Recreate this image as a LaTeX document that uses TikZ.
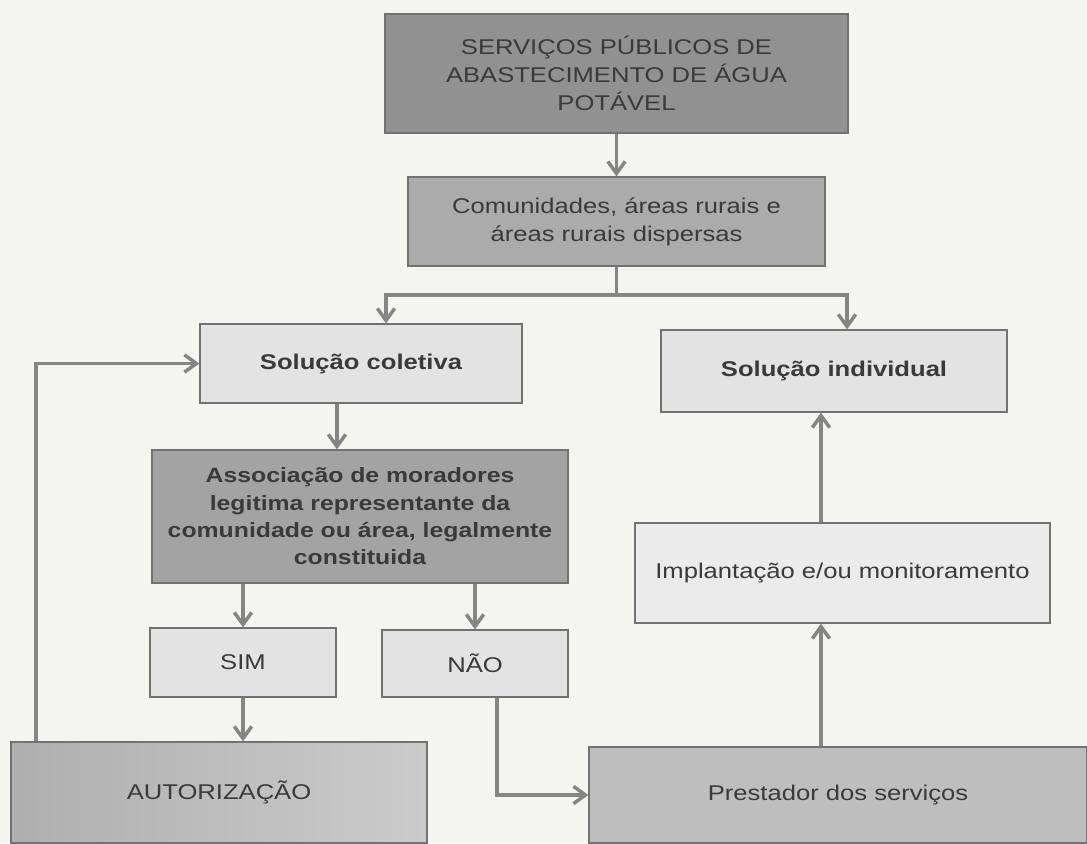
\documentclass[tikz,border=0pt]{standalone}
\usepackage{fontspec}
\setmainfont[FakeStretch=1.2]{Liberation Sans}
\usetikzlibrary{arrows.meta}

\definecolor{papel}{HTML}{F4F4F1}
\definecolor{linha}{HTML}{858585}
\definecolor{borda}{HTML}{727272}
\definecolor{texto}{HTML}{3A3A3A}
\definecolor{escuro}{HTML}{919191}
\definecolor{medio}{HTML}{ABABAB}
\definecolor{assocfill}{HTML}{A3A3A3}
\definecolor{claro}{HTML}{E3E3E3}
\definecolor{clarinho}{HTML}{EBEBEB}
\definecolor{cinza}{HTML}{BEBEBE}

\begin{document}
\begin{tikzpicture}[x=0.75pt,y=0.75pt,yscale=-1,xscale=1,
  caixa/.style={draw=borda,line width=0.9pt,text=texto,align=center,inner sep=0pt,
    font=\fontsize{16}{21}\selectfont},
  seta/.style={draw=linha,line width=2.6pt,
    -{Straight Barb[length=9pt,width=13pt,line width=2.6pt]}},
  traco/.style={draw=linha,line width=2.6pt}]
\useasboundingbox (0,0) rectangle (1087,843);
\fill [papel] (0,0) rectangle (1087,843);

%Shape: Rectangle [top]
\node [caixa,fill=escuro,minimum width=347.25pt,minimum height=89.25pt] (servicos) at (616.5,73.5)
  {SERVIÇOS PÚBLICOS DE\\ABASTECIMENTO DE ÁGUA\\POTÁVEL};
%Shape: Rectangle
\node [caixa,fill=medio,minimum width=312.75pt,minimum height=66.75pt] (comunidades) at (616.5,221.5)
  {Comunidades, áreas rurais e\\áreas rurais dispersas};
%Shape: Rectangle
\node [caixa,fill=claro,minimum width=241.5pt,minimum height=59.25pt,font=\fontsize{16}{21}\selectfont\bfseries] (coletiva) at (361,363.5)
  {Solução coletiva};
%Shape: Rectangle
\node [caixa,fill=claro,minimum width=259.5pt,minimum height=61.5pt,font=\fontsize{16}{21}\selectfont\bfseries] (individual) at (834,371)
  {Solução individual};
%Shape: Rectangle
\node [caixa,fill=assocfill,minimum width=312pt,minimum height=99.75pt,font=\fontsize{15.5}{20.5}\selectfont\bfseries] (associacao) at (360,516.5)
  {Associação de moradores\\legitima representante da\\comunidade ou área, legalmente\\constituida};
%Shape: Rectangle
\node [caixa,fill=claro,minimum width=139.5pt,minimum height=51.75pt] (sim) at (243,662.5) {SIM};
%Shape: Rectangle
\node [caixa,fill=claro,minimum width=139.5pt,minimum height=50.25pt] (nao) at (475,663.5) {NÃO};
%Shape: Rectangle
\node [caixa,left color=cinza!92!black,right color=cinza!80!white,minimum width=312pt,minimum height=75.75pt] (autorizacao) at (219,792.5)
  {AUTORIZAÇÃO};
%Shape: Rectangle
\node [caixa,fill=clarinho,minimum width=311.25pt,minimum height=75pt] (implantacao) at (842.5,573)
  {Implantação e/ou monitoramento};
%Shape: Rectangle
\node [caixa,fill=cinza,minimum width=373.5pt,minimum height=72pt] (prestador) at (838,795)
  {Prestador dos serviços};

% Coordinates
\coordinate (ramo) at (616.5,295);
\coordinate (ramoE) at (386,295);
\coordinate (ramoD) at (847,295);
\coordinate (eixoA) at (337,0);
\coordinate (eixoB) at (36,0);
\coordinate (eixoC) at (497,0);
\coordinate (eixoD) at (821,0);

%Straight Lines
\draw [seta] (servicos) -- (comunidades);
\draw [traco] (comunidades.south) -- (ramo);
\draw [seta] (ramo) -- (ramoE) -- (ramoE |- coletiva.north);
\draw [seta] (ramo) -- (ramoD) -- (ramoD |- individual.north);
\draw [seta] (eixoA |- coletiva.south) -- (eixoA |- associacao.north);
\draw [seta] (associacao.south -| sim.north) -- (sim.north);
\draw [seta] (associacao.south -| nao.north) -- (nao.north);
\draw [seta] (sim.south) -- (sim.south |- autorizacao.north);
\draw [seta] (eixoC |- nao.south) |- (prestador.west);
\draw [seta] (eixoB |- autorizacao.north) |- (coletiva.west);
\draw [seta] (eixoD |- prestador.north) -- (eixoD |- implantacao.south);
\draw [seta] (eixoD |- implantacao.north) -- (eixoD |- individual.south);

\end{tikzpicture}
\end{document}
